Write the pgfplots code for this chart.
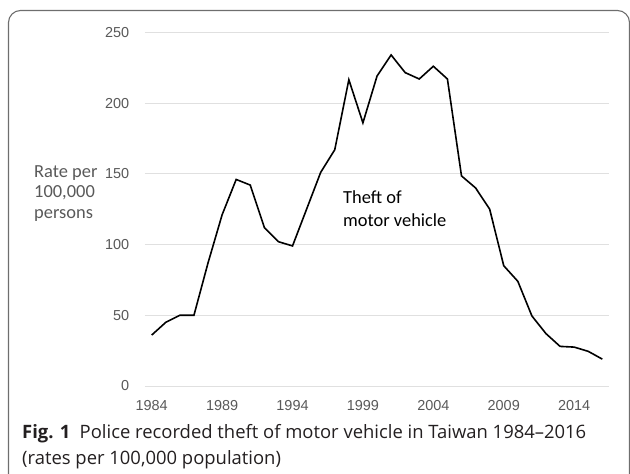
\documentclass[border=0pt]{standalone}
\usepackage{fontspec}
\setmainfont{Liberation Sans}
\newfontfamily\carlito{Carlito}
\newfontfamily\capfont{Open Sans}
\usepackage{pgfplots}
\pgfplotsset{compat=1.18}
\definecolor{ticklab}{HTML}{595959}
\definecolor{gridc}{HTML}{E0E0E0}
\definecolor{framec}{HTML}{6E6E6E}
\definecolor{capc}{HTML}{231F20}
\begin{document}
\begin{tikzpicture}
\useasboundingbox (0,0) rectangle (630bp,-474bp);
\begin{scope}
\clip (0,0) rectangle (630bp,-474bp);
\draw[framec, line width=1.1bp, rounded corners=12bp] (8.5bp,-490bp) -- (8.5bp,-10.5bp) -- (629.5bp,-10.5bp) -- (629.5bp,-490bp);
\end{scope}
\begin{axis}[
  at={(144.66bp,-386bp)}, anchor=south west,
  scale only axis, width=464.7bp, height=353.7bp,
  xmin=1983.5, xmax=2016.5, ymin=0, ymax=250,
  axis line style={draw=none},
  major tick length=0pt,
  xtick={1984,1989,1994,1999,2004,2009,2014},
  ytick={0,50,100,150,200,250},
  ymajorgrids,
  grid style={gridc, line width=1bp},
  /pgf/number format/assume math mode=true,
  /pgf/number format/1000 sep={},
  tick label style={font=\fontsize{14.5}{16}\selectfont, text=ticklab, inner sep=0pt},
  xticklabel style={anchor=north, yshift=-14.3bp},
  yticklabel style={anchor=east, xshift=-15.3bp},
  clip=false,
]
\addplot[black, line width=1.6bp] coordinates {
(1984,36) (1985,45) (1986,50) (1987,50) (1988,87) (1989,121) (1990,146)
(1991,142) (1992,112) (1993,102) (1994,99) (1995,125) (1996,151) (1997,167)
(1998,216.5) (1999,186) (2000,219) (2001,234) (2002,221.5) (2003,217)
(2004,226) (2005,217) (2006,148.5) (2007,140) (2008,125) (2009,85)
(2010,74) (2011,49.5) (2012,37) (2013,28) (2014,27.5) (2015,24.5) (2016,19)
};
\end{axis}
% annotation inside plot
\node[anchor=base west, inner sep=0pt, font=\carlito\fontsize{18.5}{20}\selectfont] at (343bp,-203.3bp) {Theft of};
\node[anchor=base west, inner sep=0pt, font=\carlito\fontsize{18.5}{20}\selectfont] at (343bp,-226bp) {motor vehicle};
% y axis title
\node[anchor=base west, inner sep=0pt, text=ticklab, font=\carlito\fontsize{18.5}{20}\selectfont] at (34bp,-177.3bp) {Rate per};
\node[anchor=base west, inner sep=0pt, text=ticklab, font=\carlito\fontsize{18.5}{20}\selectfont] at (34bp,-197.5bp) {100,000};
\node[anchor=base west, inner sep=0pt, text=ticklab, font=\carlito\fontsize{18.5}{20}\selectfont] at (34bp,-218bp) {persons};
% caption
\node[anchor=base west, inner sep=0pt, text=capc, font=\capfont\fontsize{18.5}{20}\selectfont] at (22bp,-438bp) {\textbf{Fig. 1}\hspace{0.5em}Police recorded theft of motor vehicle in Taiwan 1984–2016};
\node[anchor=base west, inner sep=0pt, text=capc, font=\capfont\fontsize{18.5}{20}\selectfont] at (22bp,-464bp) {(rates per 100,000 population)};
\end{tikzpicture}
\end{document}
